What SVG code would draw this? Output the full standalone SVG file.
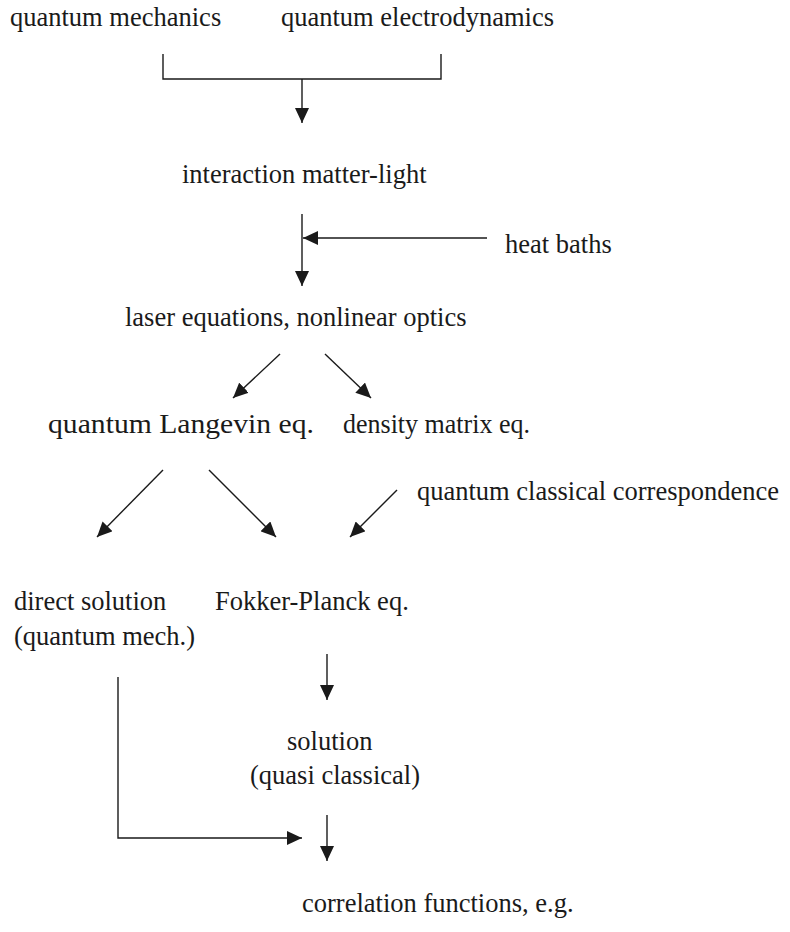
<svg xmlns="http://www.w3.org/2000/svg" width="790" height="932" viewBox="0 0 790 932">
<defs>
<marker id="ah" viewBox="0 0 15 14" refX="15" refY="7" markerWidth="15" markerHeight="14" markerUnits="userSpaceOnUse" orient="auto">
<path d="M0,0 L15,7 L0,14 z" fill="#1a1a1a"/>
</marker>
<style>
text{font-family:"Liberation Serif","Times New Roman",serif;font-size:26.5px;fill:#1a1a1a}
.c{fill:none;stroke:#1a1a1a;stroke-width:1.4}
.a{marker-end:url(#ah)}
</style>
</defs>
<rect width="790" height="932" fill="#fff"/>
<g id="n-qm"><text x="10" y="26">quantum mechanics</text></g>
<g id="n-qed"><text x="281" y="26">quantum electrodynamics</text></g>
<g id="n-int"><text x="182" y="183">interaction matter-light</text></g>
<g id="n-heat"><text x="505" y="253">heat baths</text></g>
<g id="n-laser"><text x="125" y="326">laser equations, nonlinear optics</text></g>
<g id="n-lang"><text x="48" y="433" textLength="266" lengthAdjust="spacingAndGlyphs">quantum Langevin eq.</text></g>
<g id="n-dens"><text x="343" y="433" textLength="187" lengthAdjust="spacingAndGlyphs">density matrix eq.</text></g>
<g id="n-qcc"><text x="417" y="500">quantum classical correspondence</text></g>
<g id="n-direct"><text x="14" y="610">direct solution</text><text x="14" y="645">(quantum mech.)</text></g>
<g id="n-fp"><text x="215" y="610">Fokker-Planck eq.</text></g>
<g id="n-sol"><text x="287" y="750">solution</text><text x="250" y="784">(quasi classical)</text></g>
<g id="n-corr"><text x="302" y="912">correlation functions, e.g.</text></g>
<g id="connectors">
<path class="c" d="M163,54 V79 H441 V54"/>
<path class="c a" d="M302,79 V123"/>
<path class="c a" d="M302,214 V286"/>
<path class="c a" d="M487,238 H303"/>
<path class="c a" d="M280,354 L233,398"/>
<path class="c a" d="M325,354 L371,398"/>
<path class="c a" d="M163,470 L97,537"/>
<path class="c a" d="M209,470 L276,537"/>
<path class="c a" d="M397,490 L350,537"/>
<path class="c a" d="M327,654 V700"/>
<path class="c a" d="M118,677 V838 H302"/>
<path class="c a" d="M327,815 V861"/>
</g>
</svg>
